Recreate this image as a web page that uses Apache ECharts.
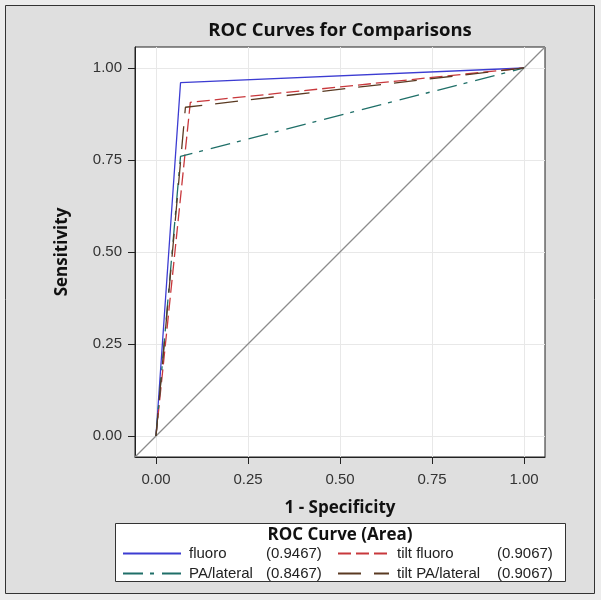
<!DOCTYPE html>
<html>
<head>
<meta charset="utf-8">
<script src="https://cdn.jsdelivr.net/npm/echarts@6/dist/echarts.min.js"></script>
<style>
html,body{margin:0;padding:0;background:#ececec;}
#chart{width:601px;height:600px;}
</style>
</head>
<body>
<div id="chart"></div>
<script>
// ---- data ----
const seriesNames = ['fluoro', 'tilt fluoro', 'PA/lateral', 'tilt PA/lateral'];
const areas = { 'fluoro': '0.9467', 'tilt fluoro': '0.9067', 'PA/lateral': '0.8467', 'tilt PA/lateral': '0.9067' };
const fluoro = [[0, 0], [0.0667, 0.96], [1, 1]];
const tiltFluoro = [[0, 0], [0.0933, 0.9067], [1, 1]];
const paLateral = [[0, 0], [0.0667, 0.76], [1, 1]];
const tiltPaLateral = [[0, 0], [0.08, 0.8933], [1, 1]];
const tickValues = [0, 0.25, 0.5, 0.75, 1];
const axisMin = -0.057, axisMax = 1.057;
const diagonal = [[axisMin, axisMin], [axisMax, axisMax]];

const FONT = 'Liberation Sans';
const BFONT = 'Open Sans';
const chart = echarts.init(document.getElementById('chart'));

function mkSeries(name, data, color, type) {
  return {
    name: name, type: 'line', data: data, symbol: 'none', z: 3,
    lineStyle: { color: color, width: 1.3, type: type },
    itemStyle: { color: color }
  };
}

const legendCommon = {
  orient: 'vertical', top: 546, itemHeight: 14, itemGap: 5, padding: 0,
  selectedMode: false,
  itemStyle: { opacity: 0 },
  textStyle: { fontFamily: FONT, fontSize: 15, color: '#222', padding: [0, 0, 0, 3] }
};

chart.setOption({
  animation: false,
  backgroundColor: '#ececec',
  graphic: [
    { type: 'rect', z: -10, shape: { x: 5.5, y: 5.5, width: 589, height: 588 },
      style: { fill: '#dfdfdf', stroke: '#333', lineWidth: 1 } },
    { type: 'text', x: 340, y: 31, style: { text: 'ROC Curves for Comparisons', font: 'bold 18.5px "' + BFONT + '"',
      fill: '#111', textAlign: 'center', textVerticalAlign: 'middle' } },
    { type: 'rect', z: -5, shape: { x: 115.5, y: 523.5, width: 450, height: 58 },
      style: { fill: '#fff', stroke: '#333', lineWidth: 1 } },
    { type: 'text', x: 340, y: 535, style: { text: 'ROC Curve (Area)', font: 'bold 17px "' + BFONT + '"',
      fill: '#111', textAlign: 'center', textVerticalAlign: 'middle' } }
  ],
  grid: { left: 135, right: 56, top: 47, bottom: 143, show: true, backgroundColor: '#fff',
    borderColor: '#222', borderWidth: 1 },
  xAxis: {
    type: 'value', min: axisMin, max: axisMax,
    name: '1 - Specificity', nameLocation: 'middle', nameGap: 43,
    nameTextStyle: { fontFamily: BFONT, fontSize: 17, fontWeight: 'bold', color: '#111' },
    axisLine: { show: true, onZero: false, lineStyle: { color: '#222' } },
    axisTick: { show: true, length: 7, customValues: tickValues, lineStyle: { color: '#222' } },
    axisLabel: { customValues: tickValues, margin: 15, fontFamily: FONT, fontSize: 15, color: '#333',
      formatter: v => v.toFixed(2) },
    splitLine: { show: true, lineStyle: { color: '#e8e8e8' } }
  },
  yAxis: {
    type: 'value', min: axisMin, max: axisMax,
    name: 'Sensitivity', nameLocation: 'middle', nameGap: 64, nameRotate: 90,
    nameTextStyle: { fontFamily: BFONT, fontSize: 17, fontWeight: 'bold', color: '#111' },
    axisLine: { show: true, onZero: false, lineStyle: { color: '#222' } },
    axisTick: { show: true, length: 7, customValues: tickValues, lineStyle: { color: '#222' } },
    axisLabel: { customValues: tickValues, margin: 13, fontFamily: FONT, fontSize: 15, color: '#333',
      formatter: v => v.toFixed(2) },
    splitLine: { show: true, lineStyle: { color: '#e8e8e8' } }
  },
  legend: [
    Object.assign({}, legendCommon, {
      left: 122, itemWidth: 58, data: ['fluoro', 'PA/lateral'],
      formatter: n => '{n|' + n + '}{v|(' + areas[n] + ')}',
      textStyle: Object.assign({}, legendCommon.textStyle, {
        rich: { n: { width: 77, fontFamily: FONT, fontSize: 15, color: '#222' },
                v: { fontFamily: FONT, fontSize: 15, color: '#222' } } })
    }),
    Object.assign({}, legendCommon, {
      left: 337, itemWidth: 51, data: ['tilt fluoro', 'tilt PA/lateral'],
      formatter: n => '{n|' + n + '}{v|(' + areas[n] + ')}',
      textStyle: Object.assign({}, legendCommon.textStyle, {
        rich: { n: { width: 100, fontFamily: FONT, fontSize: 15, color: '#222' },
                v: { fontFamily: FONT, fontSize: 15, color: '#222' } } })
    })
  ],
  series: [
    { name: 'diag', type: 'line', data: diagonal, symbol: 'none', z: 2, silent: true,
      lineStyle: { color: '#8c8c8c', width: 1.3 } },
    mkSeries('fluoro', fluoro, '#3c3cd2', 'solid'),
    mkSeries('tilt fluoro', tiltFluoro, '#c8383c', [13, 5]),
    mkSeries('PA/lateral', paLateral, '#1f6f68', [20, 7, 4, 8]),
    mkSeries('tilt PA/lateral', tiltPaLateral, '#5a3a22', [23, 13])
  ]
});
</script>
</body>
</html>
